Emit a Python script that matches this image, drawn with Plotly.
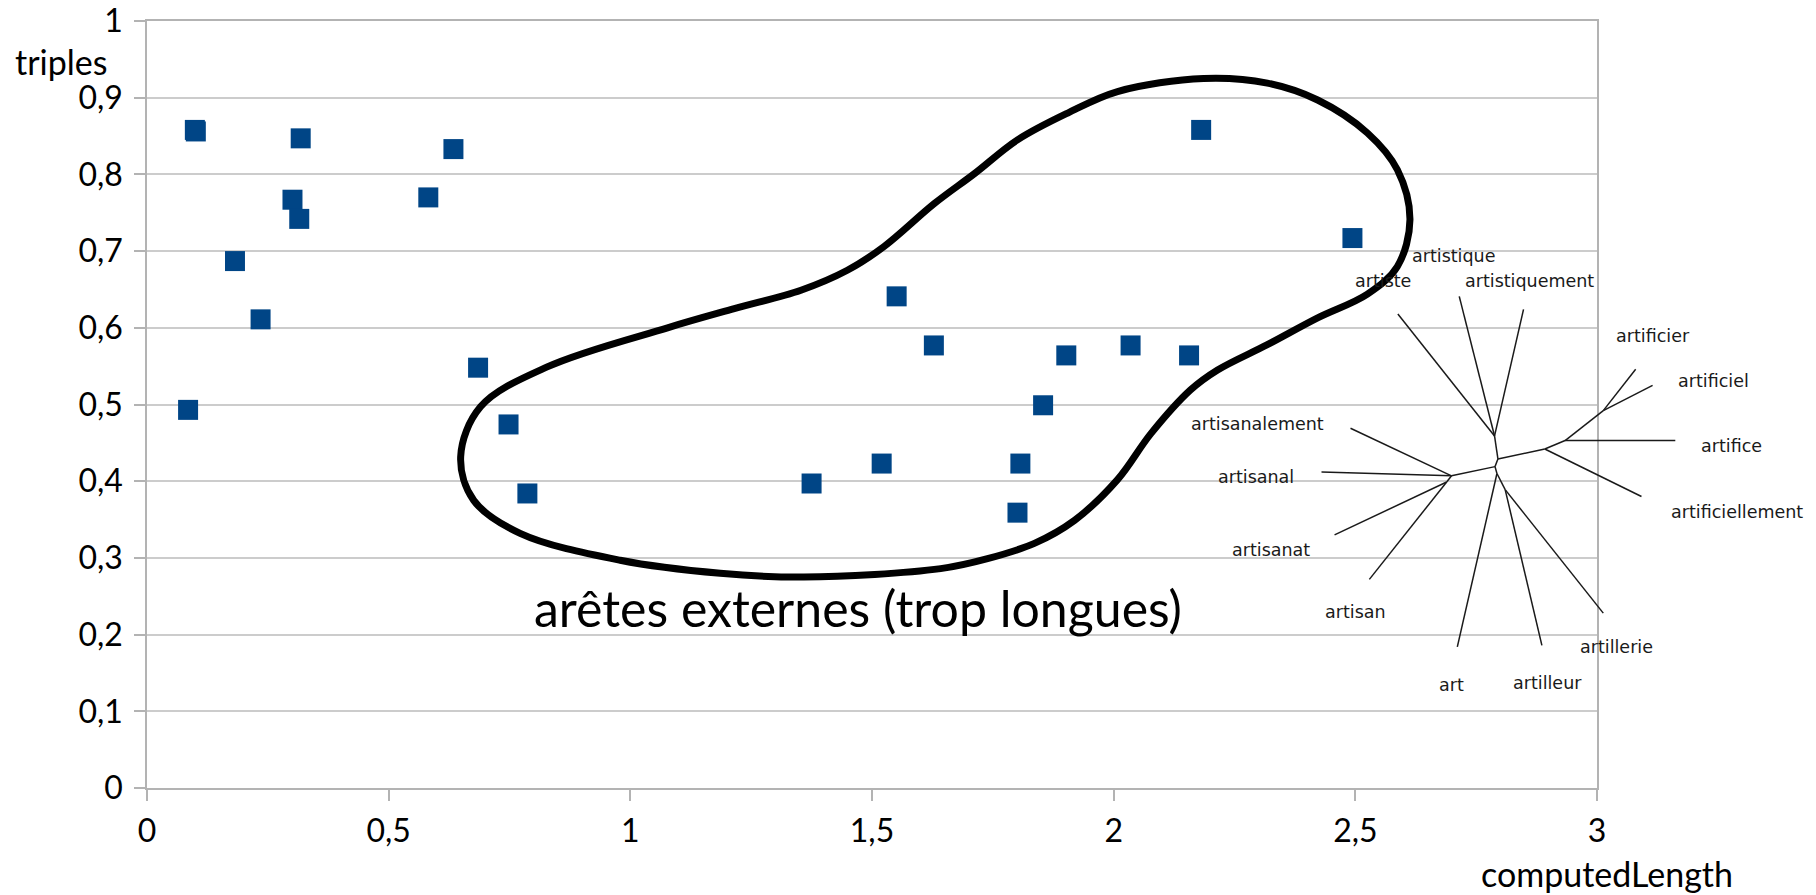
import plotly.graph_objects as go

# scatter data: computedLength vs triples
computed_length = [0.099, 0.101, 0.318, 0.634, 0.301, 0.315, 0.582, 0.182, 0.235,
                   0.685, 0.085, 0.748, 0.787, 1.375, 1.520, 1.551, 1.628, 1.801,
                   1.807, 1.854, 1.902, 2.035, 2.156, 2.181, 2.494]
triples = [0.858, 0.856, 0.847, 0.833, 0.767, 0.742, 0.770, 0.687, 0.611,
           0.548, 0.493, 0.474, 0.384, 0.397, 0.423, 0.641, 0.577, 0.359,
           0.423, 0.499, 0.564, 0.577, 0.564, 0.858, 0.717]

# hand-drawn outline around the "external edges" (chart units)
blob_x = [0.649, 0.690, 0.828, 1.077, 1.215, 1.353, 1.449, 1.525, 1.629, 1.712,
          1.801, 1.905, 2.008, 2.186, 2.318, 2.422, 2.525, 2.587, 2.613, 2.587,
          2.525, 2.422, 2.318, 2.215, 2.159, 2.077, 2.008, 1.919, 1.836, 1.739,
          1.642, 1.359, 1.186, 0.979, 0.772, 0.676, 0.649]
blob_y = [0.432, 0.497, 0.549, 0.600, 0.625, 0.649, 0.675, 0.706, 0.762, 0.801,
          0.845, 0.880, 0.908, 0.925, 0.919, 0.897, 0.854, 0.806, 0.741, 0.680,
          0.644, 0.613, 0.578, 0.545, 0.519, 0.462, 0.402, 0.349, 0.319, 0.299,
          0.286, 0.275, 0.280, 0.297, 0.332, 0.375, 0.432]

# inset tree (chart units)
tree_nodes = {
    "L_artiste": (2.588, 0.618), "L_artistique": (2.715, 0.641),
    "L_artistiquement": (2.848, 0.624), "H_top": (2.788, 0.459),
    "H_c": (2.795, 0.429), "H_r": (2.892, 0.442), "H_r2": (2.934, 0.453),
    "L_artifice": (3.162, 0.453), "H_r3": (3.013, 0.492),
    "L_artificier": (3.080, 0.546), "L_artificiel": (3.115, 0.525),
    "L_artificiellement": (3.092, 0.380), "H_c2": (2.789, 0.419),
    "H_l": (2.699, 0.407), "L_artisanalement": (2.490, 0.469),
    "L_artisanal": (2.430, 0.412), "H_l2": (2.689, 0.399),
    "L_artisanat": (2.457, 0.330), "L_artisan": (2.529, 0.272),
    "H_c3": (2.793, 0.410), "L_art": (2.711, 0.184), "H_c4": (2.810, 0.389),
    "L_artilleur": (2.886, 0.186), "L_artillerie": (3.013, 0.228),
}
tree_edges = [
    ("L_artiste", "H_top"), ("L_artistique", "H_top"), ("L_artistiquement", "H_top"),
    ("H_top", "H_c"), ("H_c", "H_r"), ("H_r", "H_r2"), ("H_r2", "L_artifice"),
    ("H_r2", "H_r3"), ("H_r3", "L_artificier"), ("H_r3", "L_artificiel"),
    ("H_r", "L_artificiellement"), ("H_c", "H_c2"), ("H_c2", "H_l"),
    ("H_l", "L_artisanalement"), ("H_l", "L_artisanal"), ("H_l", "H_l2"),
    ("H_l2", "L_artisanat"), ("H_l2", "L_artisan"), ("H_c2", "H_c3"),
    ("H_c3", "L_art"), ("H_c3", "H_c4"), ("H_c4", "L_artilleur"),
    ("H_c4", "L_artillerie"),
]
tree_labels = ["artistique", "artiste", "artistiquement", "artificier", "artificiel",
               "artifice", "artificiellement", "artisanalement", "artisanal",
               "artisanat", "artisan", "art", "artilleur", "artillerie"]
label_x = [2.703, 2.558, 2.860, 3.115, 3.241, 3.279, 3.290, 2.298, 2.295,
           2.326, 2.501, 2.699, 2.897, 3.041]
label_y = [0.693, 0.661, 0.661, 0.589, 0.531, 0.446, 0.360, 0.475, 0.406,
           0.310, 0.229, 0.134, 0.137, 0.184]

XMAX = 3.0
FONT = "Lato"
GRID = "#cccccc"
AXIS = "#b3b3b3"

fig = go.Figure()
fig.add_trace(go.Scatter(
    x=computed_length, y=triples, mode="markers",
    marker=dict(symbol="square", size=20, color="#004586", line=dict(width=0)),
    showlegend=False, hoverinfo="x+y",
))
fig.add_trace(go.Scatter(
    x=blob_x, y=blob_y, mode="lines",
    line=dict(color="black", width=7, shape="spline", smoothing=1.0),
    showlegend=False, hoverinfo="skip",
))

# tree drawn in paper space so it can spill past the right edge
for a, b in tree_edges:
    (x0, y0), (x1, y1) = tree_nodes[a], tree_nodes[b]
    fig.add_shape(type="line", xref="paper", yref="paper",
                  x0=x0 / XMAX, y0=y0, x1=x1 / XMAX, y1=y1,
                  line=dict(color="#1a1a1a", width=1.5))
for txt, lx, ly in zip(tree_labels, label_x, label_y):
    fig.add_annotation(text=txt, xref="paper", yref="paper", x=lx / XMAX, y=ly,
                       showarrow=False, xanchor="center", yanchor="middle",
                       font=dict(family="DejaVu Sans", size=17.5, color="#1a1a1a"))

fig.add_annotation(text="arêtes externes (trop longues)", x=1.47, y=0.235,
                   showarrow=False, xanchor="center", yanchor="middle",
                   font=dict(family=FONT, size=50, color="black"))
fig.add_annotation(text="triples", xref="paper", yref="paper", x=-0.059, y=0.9466,
                   showarrow=False, xanchor="center", yanchor="middle",
                   font=dict(family=FONT, size=34, color="black"))
fig.add_annotation(text="computedLength", xref="paper", yref="paper", x=1.007, y=-0.112,
                   showarrow=False, xanchor="center", yanchor="middle",
                   font=dict(family=FONT, size=34, color="black"))

fig.update_xaxes(range=[0, XMAX], dtick=0.5, showgrid=False, zeroline=False,
                 showline=True, mirror=True, linecolor=AXIS, linewidth=1.5,
                 ticks="outside", ticklen=11, tickcolor=AXIS, tickwidth=1.5,
                 ticklabelstandoff=3, automargin=False, ticklabeloverflow="allow",
                 tickfont=dict(family=FONT, size=32, color="black"))
fig.update_yaxes(range=[0, 1], dtick=0.1, showgrid=True, gridcolor=GRID, gridwidth=1.5,
                 zeroline=False, showline=True, mirror=True, linecolor=AXIS, linewidth=1.5,
                 ticks="outside", ticklen=11, tickcolor=AXIS, tickwidth=1.5,
                 ticklabelstandoff=5, automargin=False, ticklabeloverflow="allow",
                 tickfont=dict(family=FONT, size=32, color="black"))
fig.update_layout(
    width=1816, height=895, separators=", ",
    margin=dict(l=147, r=219, t=21, b=107),
    paper_bgcolor="white", plot_bgcolor="white",
    font=dict(family=FONT, color="black"),
)
# drop the browser's default body margin so the figure fills the window
fig.write_html("out.html", config={"displayModeBar": False},
               post_script="document.body.style.margin='0';")
